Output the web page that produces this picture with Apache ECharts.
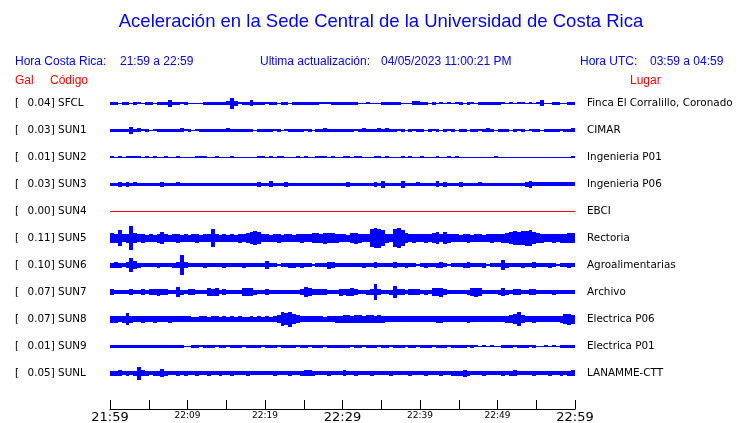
<!DOCTYPE html>
<html><head><meta charset="utf-8">
<script src="https://cdn.jsdelivr.net/npm/echarts@6/dist/echarts.min.js"></script>
<style>html,body{margin:0;padding:0;background:#fff}#c{width:740px;height:423px}</style>
</head><body><div id="c"></div>
<script>
// ---- data ----
const codes = ['SFCL','SUN1','SUN2','SUN3','SUN4','SUN5','SUN6','SUN7','SUN8','SUN9','SUNL'];
const peakGal = ['0.04','0.03','0.01','0.03','0.00','0.11','0.10','0.07','0.07','0.01','0.05'];
const places = ['Finca El Corralillo, Coronado','CIMAR','Ingenieria P01','Ingenieria P06','EBCI','Rectoria','Agroalimentarias','Archivo','Electrica P06','Electrica P01','LANAMME-CTT'];
const timeTicks = ['21:59','22:04','22:09','22:14','22:19','22:24','22:29','22:34','22:39','22:44','22:49','22:54','22:59'];
const majorTicks = ['21:59','22:29','22:59'];
const minorTicks = ['22:09','22:19','22:39','22:49'];
// envelope half-amplitudes (display units, 27 per trace spacing)
const ampSFCL = [1.5,1.5,0.5,1.5,1.5,0.5,1.5,1,0.5,1.5, 1.5,0.5,1.5,1.5,1.5,3.5,1.5,1.5,1,1.5, 0.5,0.5,0.5,0.5,1.5,1.5,1.5,1.5,1.5,1.5, 2,5.5,2.5,1,1.5,1.5,3,1.5,1.5,1.5, 1,1.5,1.5,0.5,1.5,1.5,0.5,1.5,1.5,1.5, 1.5,1.5,1.5,1.5,1,1,1,1.5,1.5,1.5, 1.5,1.5,1.5,1.5,0.5,0.5,1,0.5,0.5,0.5, 1.5,1.5,1.5,1.5,1.5,0.5,0.5,0.5,2,2, 1.5,1.5,0.5,1.5,0.5,1,0.5,1,0.5,1, 1.5,0.5,1.5,1,0.5,1.5,1.5,1.5,1.5,1.5, 1.5,1,0.5,1,0.5,1,1,0.5,1,0.5, 1,3,0.5,0.5,1.5,1.5,0.5,0.5,1.5,1.5];
const ampSUN1 = [1.5,1.5,1.5,1.5,1.5,3.5,1.5,2,1,1.5, 0.5,1,1.5,1.5,1.5,1.5,1.5,1.5,2,1, 1.5,0.5,1,1.5,1.5,1.5,1.5,1.5,1.5,1.5, 2,1.5,1.5,1.5,1.5,1.5,1.5,0.5,1.5,1.5, 1.5,1.5,1,1.5,0.5,1,1.5,1.5,1.5,1.5, 1,1.5,0.5,1.5,1.5,2,1.5,1.5,1.5,1.5, 1.5,1.5,1.5,1,1.5,2,1.5,1.5,1.5,2, 1.5,2,1.5,1.5,1,1.5,0.5,1.5,1,1.5, 1.5,0.5,1.5,1,1.5,0.5,1.5,1,1.5,0.5, 1.5,1.5,0.5,1.5,1.5,1,1.5,2,1.5,0.5, 1.5,1.5,1.5,0.5,1.5,1,1.5,0.5,1,1.5, 1.5,0.5,1.5,1.5,1.5,1.5,1,1.5,1.5,2];
const ampSUN2 = [1.2,0.5,1.2,0.5,1.2,1.2,1,1.2,0.5,1, 0.5,1,0.5,0.5,1.2,0.5,0.5,1,0.5,0.5, 0.5,0.5,1.2,1,1.2,0.5,0.5,1,0.5,0.5, 0.5,1,0.5,0.5,0.5,0.5,0.5,0.5,1.2,1, 0.5,1.2,0.5,1,1,0.5,0.5,0.5,1,0.5, 1.2,0.5,0.5,1,1.2,1,0.5,1,0.5,0.5, 1,1.2,0.5,1,1,0.5,0.5,0.5,1,1, 0.5,1,0.5,0.5,0.5,1,0.5,1,0.5,0.5, 0.8,0.5,0.5,0.5,1,0.5,0.5,1,0.5,1.2, 0.5,0.5,0.5,0.5,0.5,0.5,0.5,0.5,0.5,1.2, 0.5,0.5,0.5,0.5,0.5,0.5,0.5,0.5,0.5,0.5, 0.5,0.5,0.5,0.5,0.5,0.5,0.5,0.5,0.5,1.2];
const ampSUN3 = [1.7,1.7,2.5,1.7,2.3,1.7,2,1.7,1.7,1.7, 1.7,1.7,1.7,2.5,1.7,1.7,1.7,2,1.7,1.7, 1.7,1.7,1.7,1.7,1.7,1.7,1.7,1.7,1.7,1.7, 1.7,1.7,1.7,1.7,1.7,1.7,1.7,1.7,2.5,1.7, 1.7,3,1.7,1.7,1.7,2.5,1.7,1.7,1.7,1.7, 1.7,1.7,1.7,1.7,1.7,1.7,1.7,1.7,1.7,1.7, 1.7,2.5,1.7,1.7,1.7,1.7,1.7,1.7,2.5,1.7, 3.5,1.7,1.7,1.7,1.7,3.5,1.7,1.7,1.7,2, 1.7,1.7,1.7,1.7,3,1.7,2.5,1.7,1.7,1.7, 2.5,1.7,1.7,1.7,1.7,2,1.7,1.7,1.7,1.7, 1.7,1.7,1.7,1.7,1.7,1.7,1.7,2.5,3.5,2, 2,2,2,2,2,2,2,2,2,2];
const ampSUN4 = [0,0,0,0,0,0,0,0,0,0,0,0];
const ampSUN5 = [5,4.5,8,4,4.5,12,5,4,4.5,3.5, 4,3.5,4.5,6,4,3.5,4,4.5,3.5,4, 3.5,4,4.5,3.5,4,4,9,4,3.5,4, 3.5,4,3.5,4.5,4,5,6,7,6,4, 4,3.5,4,4.5,3.5,4,4,3.5,4,4.5, 4,4,5,5,4.5,5.5,5,5,4.5,4, 4,3.5,5,5.5,4.5,4,4,9,10,9.5, 8,4.5,4,9,10,8,5,4,4.5,4, 4,4.5,4,5,6,4,6,4.5,4,4, 3.5,4,4.5,3.5,4,4,3.5,4,4.5,4, 4,4.5,5,6,7,6.5,7,7.5,8,6, 5,4.5,4,4,4.5,4,4.5,4.5,5,5];
const ampSUN6 = [2.5,3,2.5,2,3,7,4,2.5,2,2, 2,2,2.5,2,2,2,2.5,3,10,3, 2,2,2,2,2.5,2,2,2,2,2.5, 2,2,2,2,2.5,2,2,2,2,2, 4,2,2,1,2,2,2.5,2.5,2,2.5, 2,2,1,2,2,2,3.5,3,2,2, 2,2,2,2,2,2.5,2,2,3,2, 2,2,2,3,2,2,2.5,2,2,1, 2,2.5,2,2,2.5,3,2,1,2,2, 2,2.5,3,2,2,2,2.5,1,2,2, 2,5,2.5,2,2,2,2.5,2,2,3, 2,2,2,2.5,2,1,2,2,2.5,2];
const ampSUN7 = [3,2,2,2,2,3,2,2,3,2, 3,3,3.5,3,3,2,2,5,2.5,2, 3,3,2,2,2,4,3.5,4,2,3, 2,2,2,2,4,4,4,2.5,2,2, 3,2,2,2,2,2,2,2,2,3, 5,4,3,3,3,3,2,2,2,3.5, 3,3.5,4,3,2,2,2.5,3,8,3, 2,2,2.5,6,3,3,2,3,3,3, 2,2.5,2,4,4,4.5,3,2,2,2, 2,2,2.5,4,4.5,4,2,2,2,2, 2.5,4,2.5,2,3,3,2,2,3,3, 2,2,2,2,2.5,2,2,2,2,2];
const ampSUN8 = [3.5,3.5,3,3.5,6,3.5,3,3,3.5,3, 3,3.5,3,3,3,3.5,3,3,3,3, 3,2.5,2.5,3,3,2.5,3,3,2.5,3, 2.5,3,2.5,3,2.5,2.5,3,2.5,3,2.5, 3,2.5,3,4,7,6,7.5,5,4,3, 3,3,3,3,3,2.5,3,3,3.5,3.5, 4,4,3.5,4,4,3.5,4,4,3.5,4, 3.5,3,3,3,3,3,3,3,3,3, 3,3,3,3,3.5,3.5,3,3,3,3, 3,3,3.5,3,3,3,3,3,3,3, 3,3,3.5,4,5,7,4,3,3,3.5, 3,3,3,3,3,3,3.5,5,5.5,4.5];
const ampSUN9 = [1.5,1.5,1.5,1.5,1.5,1.5,1.5,1.5,1.5,1.5, 1.5,1.5,1.5,1.5,1.5,1.5,1.5,1.5,1.5,0.5, 0.5,1.5,1.5,1,1.5,1.5,1.5,1,1.5,1.5, 1,1.5,1.5,1.5,1,1.5,1.5,1.5,1.5,1, 1.5,1.5,1.5,1,1.5,1.5,1.5,1.5,1,1.5, 1.5,1,1.5,1.5,1.5,1,1.5,1.5,1.5,1.5, 1.5,1.5,1,1.5,1.5,1,1.5,1.5,1.5,1, 1.5,1.5,1,1.5,1.5,1.5,1,1.5,1.5,1, 1.5,1.5,1.5,1,1.5,1.5,1.5,1,1.5,1.5, 1.5,1.5,1,1.5,1,0.5,1,0.5,1,0.5, 0.5,1.5,1.5,1.5,1,1.5,1.5,1.5,1,1.5, 0.5,0.5,1,0.5,1,0.5,1.5,1.5,1.5,1.5];
const ampSUNL = [2.5,2.5,3,2,2.5,2,2.5,6.5,3,2.5, 2,2.5,2.5,4,2.5,2,2,2.5,2,2.5, 2,2,2.5,2,2,2.5,2,2,2.5,2, 2,2.5,2,2,2,2.5,2,2,2,2, 2,2,2.5,2,2,2,2.5,2,2,2.5, 3,3,2.5,2,2,2,2.5,2,2,2, 3,2,2,2.5,2,2,2,2.5,2,2, 2,2,2.5,2,2,2,2,2.5,2,2, 2,2.5,2,2,2,2.5,2,2,2.5,2.5, 2.5,3.5,2.5,2,2,2,2.5,2,2,2, 2,2.5,2,2.5,3,2,2,2,2,2.5, 2,2,2,2.5,2,2,2.5,2,2.5,3];
const amplitudes = [ampSFCL,ampSUN1,ampSUN2,ampSUN3,ampSUN4,ampSUN5,ampSUN6,ampSUN7,ampSUN8,ampSUN9,ampSUNL];
const traceColors = ['#0000ff','#0000ff','#0000ff','#0000ff','#ff0000','#0000ff','#0000ff','#0000ff','#0000ff','#0000ff','#0000ff'];

// ---- chart ----
const WINDOW_MIN = 60;
const AMP_UNIT = 1/27;
const chart = echarts.init(document.getElementById('c'), null, {renderer:'canvas'});

function renderItem(params, api){
  const t = api.value(0), row = api.value(1), a = api.value(2), dt = api.value(3);
  const c0 = api.coord([t, row]);
  const c1 = api.coord([t + dt, row]);
  const ca = api.coord([t, row - a*AMP_UNIT]);
  const h = Math.max(1, Math.round(2*Math.abs(c0[1]-ca[1])));
  const x0 = Math.round(c0[0]), x1 = Math.round(c1[0]);
  const y0 = Math.round(c0[1] - h/2);
  return {type:'rect', shape:{x:x0, y:y0, width:Math.max(1,x1-x0), height:h},
          style:{fill: traceColors[params.seriesIndex]}};
}

const series = amplitudes.map((arr, s) => {
  const dt = WINDOW_MIN / arr.length;
  return {
    type:'custom', renderItem, xAxisIndex:0, yAxisIndex:0, silent:true,
    encode:{x:0, y:1},
    data: arr.map((a,i) => [i*dt, s+1, a, dt])
  };
});

const fontSans = 'Liberation Sans, Arial, sans-serif';
const fontDv = 'DejaVu Sans, sans-serif';
const idxOf = v => Math.round(v) - 1;

chart.setOption({
  animation:false,
  grid:{left:110, right:165, top:76, bottom:14, containLabel:false, outerBoundsMode:'none'},
  xAxis:{
    type:'value', min:0, max:WINDOW_MIN, interval:5, position:'bottom',
    axisLine:{show:true, onZero:false, lineStyle:{color:'#000', width:1}},
    axisTick:{show:true, inside:true, length:9, lineStyle:{color:'#000'}},
    splitLine:{show:false},
    axisLabel:{
      margin:2, showMinLabel:true, showMaxLabel:true, hideOverlap:false,
      formatter: v => {
        const lab = timeTicks[Math.round(v/5)];
        if (majorTicks.includes(lab)) return '{big|' + lab + '}';
        if (minorTicks.includes(lab)) return '{sm|' + lab + '}';
        return '';
      },
      rich:{
        big:{fontFamily:fontDv, fontSize:13, color:'#000', lineHeight:14},
        sm:{fontFamily:fontDv, fontSize:9, color:'#000', lineHeight:9}
      }
    }
  },
  yAxis:[{
    type:'value', min:0, max:333/27, interval:1, inverse:true, position:'left',
    axisLine:{show:false}, axisTick:{show:false}, splitLine:{show:false},
    axisLabel:{
      align:'left', margin:95, hideOverlap:false,
      formatter: v => {
        const i = idxOf(v);
        if (Math.abs(v - Math.round(v))>1e-6 || i<0 || i>=codes.length) return '';
        return '{b|[}{v|' + peakGal[i] + '] ' + codes[i] + '}';
      },
      rich:{
        b:{fontFamily:fontDv, fontSize:10.4, color:'#000'},
        v:{fontFamily:fontDv, fontSize:10.4, color:'#000', padding:[0,0,0,8.5]}
      }
    }
  },{
    type:'value', min:0, max:333/27, interval:1, inverse:true, position:'right',
    axisLine:{show:false}, axisTick:{show:false}, splitLine:{show:false},
    axisLabel:{
      align:'left', margin:12, fontFamily:fontDv, fontSize:10.4, color:'#000', hideOverlap:false,
      formatter: v => {
        const i = idxOf(v);
        if (Math.abs(v - Math.round(v))>1e-6 || i<0 || i>=places.length) return '';
        return places[i];
      }
    }
  }],
  graphic:[
    {type:'text', x:381, y:22, style:{text:'Aceleración en la Sede Central de la Universidad de Costa Rica', font:'18.5px '+fontSans, fill:'#0000ff', align:'center', verticalAlign:'middle'}},
    {type:'text', x:15, y:62, style:{text:'Hora Costa Rica:', font:'12px '+fontSans, fill:'#0000ff', verticalAlign:'middle'}},
    {type:'text', x:120, y:62, style:{text:'21:59 a 22:59', font:'12px '+fontSans, fill:'#0000ff', verticalAlign:'middle'}},
    {type:'text', x:260, y:62, style:{text:'Ultima actualización:', font:'12px '+fontSans, fill:'#0000ff', verticalAlign:'middle'}},
    {type:'text', x:381, y:62, style:{text:'04/05/2023 11:00:21 PM', font:'12px '+fontSans, fill:'#0000ff', verticalAlign:'middle'}},
    {type:'text', x:580, y:62, style:{text:'Hora UTC:', font:'12px '+fontSans, fill:'#0000ff', verticalAlign:'middle'}},
    {type:'text', x:650, y:62, style:{text:'03:59 a 04:59', font:'12px '+fontSans, fill:'#0000ff', verticalAlign:'middle'}},
    {type:'text', x:15, y:81, style:{text:'Gal', font:'12px '+fontSans, fill:'#ff0000', verticalAlign:'middle'}},
    {type:'text', x:50, y:81, style:{text:'Código', font:'12px '+fontSans, fill:'#ff0000', verticalAlign:'middle'}},
    {type:'text', x:630, y:81, style:{text:'Lugar', font:'12px '+fontSans, fill:'#ff0000', verticalAlign:'middle'}}
  ],
  series
});
</script></body></html>
